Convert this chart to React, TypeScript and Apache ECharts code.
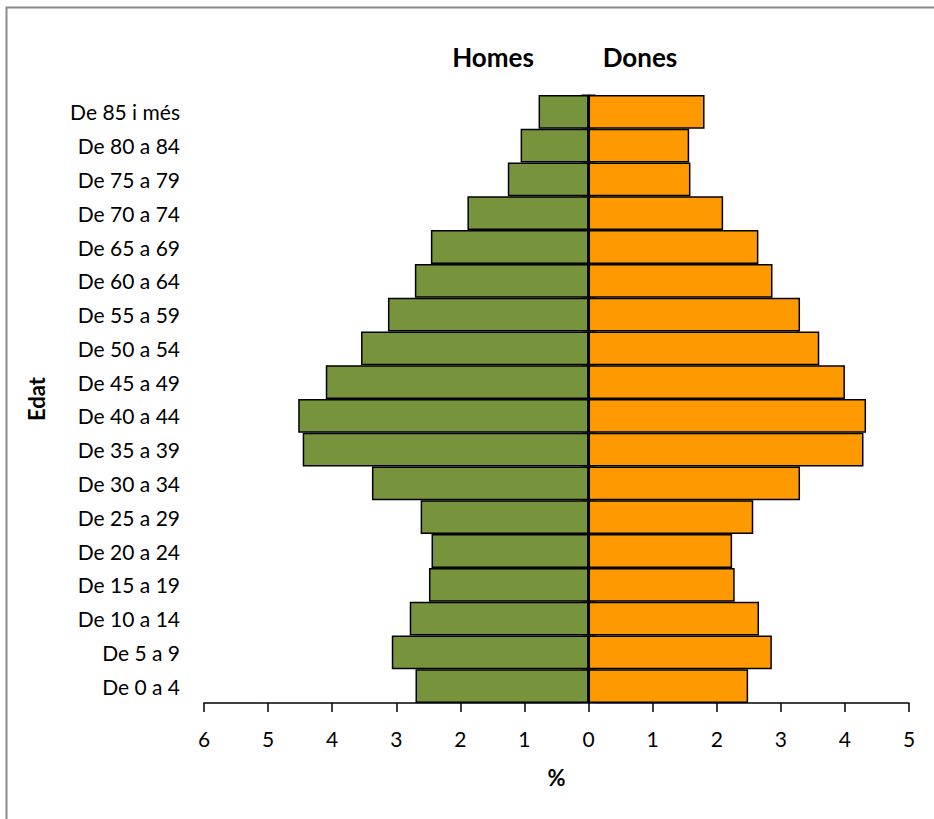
import React, { useEffect, useRef } from "react";
import * as echarts from "echarts";

const categories = [
  "De 0 a 4", "De 5 a 9", "De 10 a 14", "De 15 a 19", "De 20 a 24", "De 25 a 29",
  "De 30 a 34", "De 35 a 39", "De 40 a 44", "De 45 a 49", "De 50 a 54", "De 55 a 59",
  "De 60 a 64", "De 65 a 69", "De 70 a 74", "De 75 a 79", "De 80 a 84", "De 85 i més",
];
const homes = [2.70, 3.07, 2.79, 2.49, 2.45, 2.62, 3.38, 4.46, 4.53, 4.10, 3.55, 3.13, 2.71, 2.46, 1.89, 1.26, 1.06, 0.78];
const dones = [2.49, 2.86, 2.66, 2.28, 2.24, 2.57, 3.30, 4.29, 4.33, 4.00, 3.60, 3.30, 2.87, 2.65, 2.10, 1.59, 1.57, 1.81];
const seriesNames = ["Homes", "Dones"];
const FONT = "Lato, 'Noto Sans', sans-serif";

export default function App() {
  const ref = useRef<HTMLDivElement>(null);
  useEffect(() => {
    if (!ref.current) return;
    const chart = echarts.init(ref.current, null, { renderer: "svg" });
    const baseCat = {
      type: "category",
      data: categories,
      position: "left",
    };
    chart.setOption({
      animation: false,
      backgroundColor: "#fff",
      textStyle: { fontFamily: FONT },
      grid: { left: 204, right: 25, top: 95, bottom: 116, containLabel: false },
      xAxis: [
        {
          type: "value",
          min: -6,
          max: 5,
          interval: 1,
          axisLine: { show: true, lineStyle: { color: "#000", width: 1.5 } },
          axisTick: { show: true, length: 9, lineStyle: { color: "#000", width: 1.5 } },
          axisLabel: {
            color: "#000",
            fontSize: 21,
            fontFamily: FONT,
            margin: 25,
            formatter: (v: number) => String(Math.abs(v)),
          },
          splitLine: { show: false },
          name: "%",
          nameLocation: "middle",
          nameGap: 63,
          nameTextStyle: { color: "#000", fontSize: 22, fontWeight: "bold", fontFamily: FONT },
        },
        { type: "value", min: -6, max: 5, interval: 1, show: false },
      ],
      yAxis: [
        {
          ...baseCat,
          axisLine: { show: false, onZero: false },
          axisTick: { show: false },
          axisLabel: { color: "#000", fontSize: 21, fontFamily: FONT, margin: 24 },
          name: "Edat",
          nameLocation: "middle",
          nameGap: 157,
          nameRotate: 90,
          nameTextStyle: { color: "#000", fontSize: 22, fontWeight: "bold", fontFamily: FONT },
        },
        {
          ...baseCat,
          axisLine: { show: true, onZero: true, onZeroAxisIndex: 0, lineStyle: { color: "#000", width: 1.5 } },
          axisTick: { show: true, inside: true, length: 7, lineStyle: { color: "#555", width: 1.5 } },
          axisLabel: { show: false },
        },
        {
          ...baseCat,
          axisLine: { show: true, onZero: true, onZeroAxisIndex: 1, lineStyle: { color: "#000", width: 1.5 } },
          axisTick: { show: true, inside: false, length: 7, lineStyle: { color: "#555", width: 1.5 } },
          axisLabel: { show: false },
        },
      ],
      series: [
        {
          name: seriesNames[0],
          type: "bar",
          stack: "pyr",
          xAxisIndex: 0,
          yAxisIndex: 0,
          barCategoryGap: "0%",
          data: homes.map((v) => -v),
          itemStyle: { color: "#77933C", borderColor: "#000", borderWidth: 1.5 },
        },
        {
          name: seriesNames[1],
          type: "bar",
          stack: "pyr",
          xAxisIndex: 0,
          yAxisIndex: 0,
          barCategoryGap: "0%",
          data: dones,
          itemStyle: { color: "#FF9900", borderColor: "#000", borderWidth: 1.5 },
        },
      ],
      graphic: [
        {
          type: "rect",
          shape: { x: 6.5, y: 7.5, width: 1000, height: 1000 },
          style: { fill: "none", stroke: "#8a8a8a", lineWidth: 2 },
          silent: true,
        },
        {
          type: "text",
          x: 493,
          y: 57,
          style: {
            text: seriesNames[0],
            fill: "#000",
            fontSize: 26,
            fontWeight: "bold",
            fontFamily: FONT,
            align: "center",
            verticalAlign: "middle",
          },
        },
        {
          type: "text",
          x: 640,
          y: 57,
          style: {
            text: seriesNames[1],
            fill: "#000",
            fontSize: 26,
            fontWeight: "bold",
            fontFamily: FONT,
            align: "center",
            verticalAlign: "middle",
          },
        },
      ],
    });
    return () => chart.dispose();
  }, []);
  return (
    <div
      ref={ref}
      style={{ position: "fixed", left: 0, top: 0, width: 934, height: 819 }}
    />
  );
}
